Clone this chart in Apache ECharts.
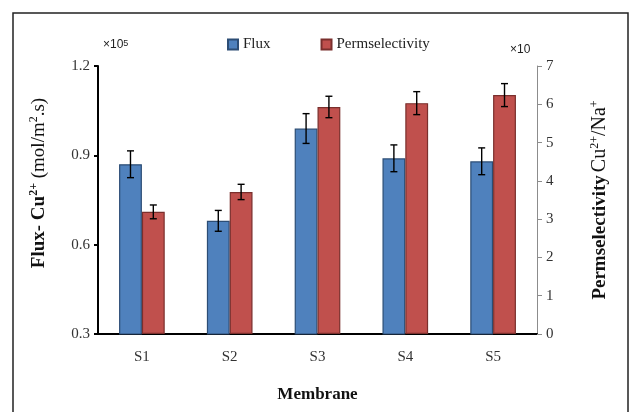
<!DOCTYPE html>
<html>
<head>
<meta charset="utf-8">
<script src="https://cdn.jsdelivr.net/npm/echarts@6/dist/echarts.min.js"></script>
<style>
  html, body { margin: 0; padding: 0; background: #fff; }
  #chart { width: 630px; height: 412px; }
</style>
</head>
<body>
<div id="chart"></div>
<script>
// data
var categories = ["S1", "S2", "S3", "S4", "S5"];
var fluxValues = [0.87, 0.68, 0.99, 0.89, 0.88];
var fluxErr = [0.045, 0.035, 0.05, 0.045, 0.045];
var permValues = [3.19, 3.71, 5.93, 6.03, 6.24];
var permErr = [0.18, 0.2, 0.28, 0.3, 0.3];
var fluxTicks = [0.3, 0.6, 0.9, 1.2];

var serif = "Liberation Serif";
var barFrac = 0.26; // bar width as part of a category

// error bar drawing, shifted left (-1) or right (+1) of category center
function errorBars(vals, errs, side) {
  return function (params, api) {
    var i = api.value(0);
    var band = api.size([1, 0])[0];
    var dx = side * band * barFrac / 2;
    var hi = api.coord([i, vals[i] + errs[i]]);
    var lo = api.coord([i, vals[i] - errs[i]]);
    var x = hi[0] + dx;
    var cap = 3.5;
    var st = { stroke: "#000", lineWidth: 1.4 };
    return {
      type: "group",
      children: [
        { type: "line", shape: { x1: x, y1: hi[1], x2: x, y2: lo[1] }, style: st },
        { type: "line", shape: { x1: x - cap, y1: hi[1], x2: x + cap, y2: hi[1] }, style: st },
        { type: "line", shape: { x1: x - cap, y1: lo[1], x2: x + cap, y2: lo[1] }, style: st }
      ]
    };
  };
}

var chart = echarts.init(document.getElementById("chart"));
chart.setOption({
  animation: false,
  textStyle: { fontFamily: serif },
  grid: { left: 98, right: 93, top: 66, bottom: 78 },
  legend: {
    top: 32,
    left: 222,
    icon: "rect",
    itemWidth: 10,
    itemHeight: 10,
    itemGap: 50,
    textStyle: { fontFamily: serif, fontSize: 15, color: "#222" },
    data: ["Flux", "Permselectivity"]
  },
  xAxis: {
    type: "category",
    data: categories,
    axisLine: { lineStyle: { color: "#000", width: 2 } },
    axisTick: { show: false },
    axisLabel: { fontFamily: serif, fontSize: 15, color: "#333", margin: 16 },
    name: "Membrane",
    nameLocation: "middle",
    nameGap: 52,
    nameTextStyle: { fontFamily: serif, fontSize: 17, fontWeight: "bold", color: "#111" }
  },
  yAxis: [
    {
      type: "value",
      min: 0.3,
      max: 1.2,
      interval: 0.3,
      splitLine: { show: false },
      axisLine: { show: true, lineStyle: { color: "#000", width: 2 } },
      axisTick: { show: true, inside: false, length: 4, lineStyle: { color: "#000", width: 2 } },
      axisLabel: {
        fontFamily: serif, fontSize: 15, color: "#333", margin: 8,
        formatter: function (v) { return fluxTicks.indexOf(+v.toFixed(1)) >= 0 ? v.toFixed(1) : ""; }
      },
      name: "{b|Flux- Cu}{bs|2+}{n| (mol/m}{s|2}{n|.s)}",
      nameLocation: "middle",
      nameGap: 48,
      nameRotate: 90,
      nameTextStyle: {
        padding: [0, 0, 0, 34],
        rich: {
          b: { fontFamily: serif, fontSize: 19, fontWeight: "bold", color: "#111", lineHeight: 22 },
          bs: { fontFamily: serif, fontSize: 12, fontWeight: "bold", color: "#111", verticalAlign: "top", lineHeight: 22 },
          n: { fontFamily: serif, fontSize: 19, color: "#111", lineHeight: 22 },
          s: { fontFamily: serif, fontSize: 12, color: "#111", verticalAlign: "top", lineHeight: 22 }
        }
      }
    },
    {
      type: "value",
      min: 0,
      max: 7,
      interval: 1,
      position: "right",
      splitLine: { show: false },
      axisLine: { show: true, lineStyle: { color: "#8c8c8c", width: 1 } },
      axisTick: { show: true, inside: false, length: 5, lineStyle: { color: "#8c8c8c" } },
      axisLabel: { fontFamily: serif, fontSize: 15, color: "#333", margin: 9 },
      name: "{b|Permselectivity} {n|Cu}{s|2+}{n|/Na}{s|+}",
      nameLocation: "middle",
      nameGap: 52,
      nameRotate: 90,
      nameTextStyle: {
        rich: {
          b: { fontFamily: serif, fontSize: 19, fontWeight: "bold", color: "#111", lineHeight: 22 },
          n: { fontFamily: serif, fontSize: 20, color: "#111", lineHeight: 22 },
          s: { fontFamily: serif, fontSize: 12, color: "#111", verticalAlign: "top", lineHeight: 22 }
        }
      }
    }
  ],
  graphic: [
    {
      type: "rect",
      shape: { x: 13, y: 13, width: 615, height: 420 },
      style: { fill: null, stroke: "#222", lineWidth: 1.5 },
      silent: true
    },
    {
      type: "text",
      left: 103,
      top: 39,
      style: {
        text: "×10{s|5}",
        fontFamily: "Liberation Sans",
        fontSize: 12,
        fill: "#222",
        rich: { s: { fontSize: 9, verticalAlign: "top", fontFamily: "Liberation Sans", fill: "#222" } }
      }
    },
    {
      type: "text",
      left: 510,
      top: 44,
      style: { text: "×10", fontFamily: "Liberation Sans", fontSize: 12, fill: "#222" }
    }
  ],
  series: [
    {
      name: "Flux",
      type: "bar",
      yAxisIndex: 0,
      barWidth: "26%",
      barGap: "0%",
      itemStyle: { color: "#4f81bd", borderColor: "#2c4d75", borderWidth: 1.2 },
      data: fluxValues
    },
    {
      name: "Permselectivity",
      type: "bar",
      yAxisIndex: 1,
      barWidth: "26%",
      barGap: "0%",
      itemStyle: { color: "#c0504d", borderColor: "#7a2f2d", borderWidth: 1.2 },
      data: permValues
    },
    {
      type: "custom",
      yAxisIndex: 0,
      z: 5,
      renderItem: errorBars(fluxValues, fluxErr, -1),
      data: categories.map(function (c, i) { return [i, fluxValues[i]]; })
    },
    {
      type: "custom",
      yAxisIndex: 1,
      z: 5,
      renderItem: errorBars(permValues, permErr, 1),
      data: categories.map(function (c, i) { return [i, permValues[i]]; })
    }
  ]
});
</script>
</body>
</html>
